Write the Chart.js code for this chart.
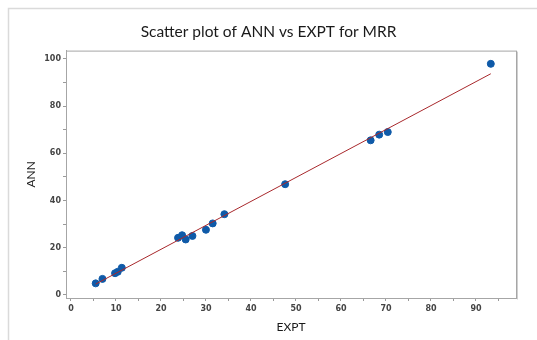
<!DOCTYPE html>
<html>
<head>
<meta charset="utf-8">
<script src="https://cdn.jsdelivr.net/npm/chart.js@4"></script>
<style>
	html, body { margin: 0; padding: 0; background: #fff; }
	#wrap { width: 537px; height: 340px; }
</style>
</head>
<body>
<div id="wrap"><canvas id="grafica" width="537" height="340"></canvas></div>
<script>
// --- valores --- //
const expt = [5.5, 7.0, 9.8, 10.4, 11.3, 23.8, 24.7, 25.5, 27.0, 30.0, 31.5, 34.1, 47.6, 66.6, 68.5, 70.4, 93.3];
const ann = [4.9, 6.8, 9.2, 9.8, 11.5, 24.2, 25.3, 23.5, 25.0, 27.6, 30.3, 34.2, 46.9, 65.5, 67.9, 69.0, 97.9];

// linea de ajuste (extremos)
const ajusteX = [5.5, 93.3];
const ajusteY = [4.6, 93.7];

const xTicks = [0, 5, 10, 15, 20, 25, 30, 35, 40, 45, 50, 55, 60, 65, 70, 75, 80, 85, 90, 95];
const xLabels = [0, 10, 20, 30, 40, 50, 60, 70, 80, 90];
const yTicks = [0, 10, 20, 30, 40, 50, 60, 70, 80, 90, 100];
const yLabels = [0, 20, 40, 60, 80, 100];

(function () {
	const grafica = document.getElementById('grafica');

	const marco = {
		id: 'marco',
		beforeDraw(chart) {
			const ctx = chart.ctx;
			ctx.save();
			ctx.strokeStyle = '#dadada';
			ctx.lineWidth = 1.5;
			ctx.beginPath();
			ctx.moveTo(8.5, 340);
			ctx.lineTo(8.5, 8.5);
			ctx.lineTo(537, 8.5);
			ctx.stroke();
			ctx.restore();
		},
		afterDraw(chart) {
			const { ctx, chartArea: a } = chart;
			ctx.save();
			ctx.strokeStyle = '#a6a6a6';
			ctx.lineWidth = 1;
			ctx.strokeRect(a.left + 0.5, a.top + 0.5, a.right - a.left, a.bottom - a.top);
			ctx.strokeStyle = '#cfcfcf';
			ctx.beginPath();
			ctx.moveTo(a.right + 1.5, a.top + 1);
			ctx.lineTo(a.right + 1.5, a.bottom + 1.5);
			ctx.stroke();
			ctx.restore();
		},
	};

	const fuenteTicks = { family: 'DejaVu Sans', size: 8, weight: 'bold' };

	const ejeX = {
		type: 'linear',
		min: -1.1,
		max: 98.9,
		afterBuildTicks: (axis) => { axis.ticks = xTicks.map((v) => ({ value: v })); },
		afterFit: (axis) => { axis.height = 42; },
		grid: { drawOnChartArea: false, drawTicks: true, tickLength: 3, color: '#9a9a9a' },
		border: { display: true, color: '#a6a6a6' },
		ticks: {
			autoSkip: false,
			maxRotation: 0,
			padding: 3,
			color: '#444',
			font: fuenteTicks,
			callback: (v) => (xLabels.includes(v) ? String(v) : ''),
		},
		title: {
			display: true,
			text: 'EXPT',
			color: '#1a1a1a',
			font: { family: 'Lato', size: 12 },
			padding: { top: 0, bottom: 6 },
		},
	};

	const ejeY = {
		type: 'linear',
		min: -1.3,
		max: 103.5,
		afterBuildTicks: (axis) => { axis.ticks = yTicks.map((v) => ({ value: v })); },
		afterFit: (axis) => { axis.width = 66; },
		grid: { drawOnChartArea: false, drawTicks: true, tickLength: 3, color: '#9a9a9a' },
		border: { display: true, color: '#a6a6a6' },
		ticks: {
			autoSkip: false,
			padding: 2,
			color: '#444',
			font: fuenteTicks,
			callback: (v) => (yLabels.includes(v) ? String(v) : ''),
		},
		title: {
			display: true,
			text: 'ANN',
			color: '#1a1a1a',
			font: { family: 'Lato', size: 12 },
			padding: { top: 24, bottom: 0 },
		},
	};

	// eje vacio a la derecha solo para dejar el margen
	const ejeDerecho = {
		type: 'linear',
		position: 'right',
		display: true,
		afterFit: (axis) => { axis.width = 21; },
		grid: { display: false },
		border: { display: false },
		ticks: { display: false },
	};

	new Chart(grafica, {
		type: 'scatter',
		data: {
			datasets: [
				{
					type: 'line',
					label: 'ajuste',
					data: ajusteX.map((x, i) => ({ x: x, y: ajusteY[i] })),
					borderColor: '#a8282c',
					borderWidth: 1,
					pointRadius: 0,
					fill: false,
				},
				{
					label: 'ANN',
					data: expt.map((x, i) => ({ x: x, y: ann[i] })),
					backgroundColor: '#0f5aa8',
					borderColor: '#0f5aa8',
					pointRadius: 3.5,
					pointHoverRadius: 3.5,
				},
			],
		},
		options: {
			responsive: false,
			animation: false,
			layout: { padding: 0 },
			scales: { x: ejeX, y: ejeY, yDer: ejeDerecho },
			plugins: {
				legend: { display: false },
				tooltip: { enabled: false },
				title: {
					display: true,
					text: 'Scatter plot of ANN vs EXPT for MRR',
					color: '#1a1a1a',
					font: { family: 'Lato', size: 15.5, weight: 'normal' },
					padding: { top: 23, bottom: 9 },
				},
			},
		},
		plugins: [marco],
	});
})();
</script>
</body>
</html>
